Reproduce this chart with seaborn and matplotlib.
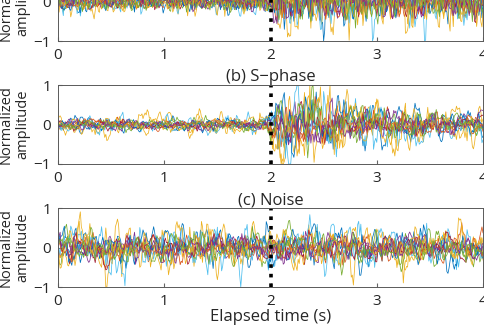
import numpy as np
import pandas as pd
import matplotlib
matplotlib.use('Agg')
import matplotlib.pyplot as plt
import seaborn as sns

# Envelope of the waveforms (amplitude at each knot time)
t_knots = [0.0, 0.5, 1.0, 1.5, 1.95, 2.05, 2.4, 2.8, 3.2, 3.6, 4.0]
env_p = [0.13, 0.11, 0.11, 0.12, 0.12, 0.26, 0.28, 0.26, 0.25, 0.24, 0.23]
env_s = [0.09, 0.09, 0.08, 0.08, 0.09, 0.36, 0.38, 0.28, 0.22, 0.18, 0.15]
env_n = [0.21, 0.21, 0.21, 0.21, 0.21, 0.21, 0.21, 0.21, 0.21, 0.21, 0.21]

# relative gain of each trace (a couple of traces are louder than the rest)
trace_gain = [1.0, 0.8, 1.5, 0.7, 0.9, 1.4, 0.8, 1.0, 0.7, 1.2, 0.8, 0.9]
# smoothing length (samples) per panel: P is spiky, S and noise are smoother
smooth_len = {'(a) P-phase': 2, '(b) S\u2212phase': 4, '(c) Noise': 4}

panels = ['(a) P-phase', '(b) S\u2212phase', '(c) Noise']
envelopes = [env_p, env_s, env_n]
ytick_vals = [-1, 0, 1]
xtick_vals = [0, 1, 2, 3, 4]
onset_time = 2.0

matlab_colors = ['#0072BD', '#D95319', '#EDB120', '#7E2F8E', '#77AC30', '#4DBEEE', '#A2142F']

fs = 100
t = np.arange(0, 4.0 + 1e-9, 1 / fs)
rng = np.random.default_rng(7)

frames = []
for name, env in zip(panels, envelopes):
    e = np.interp(t, t_knots, env)
    k = smooth_len[name]
    for i, g in enumerate(trace_gain):
        w = rng.standard_normal(len(t) + k)
        w = np.convolve(w, np.ones(k) / np.sqrt(k), mode='same')[:len(t)]
        y = np.clip(g * e * w, -1.0, 1.0)
        frames.append(pd.DataFrame({'panel': name, 'trace': i, 'time': t, 'amp': y}))
df = pd.concat(frames, ignore_index=True)

sns.set_style('ticks')
plt.rcParams['font.family'] = ['Open Sans', 'DejaVu Sans']
plt.rcParams['font.size'] = 10.5

fig = plt.figure(figsize=(4.85, 3.27), dpi=100)
left, width, height = 0.1196, 0.8763, 0.2405
bottoms = [0.8746, 0.4985, 0.1223]

palette = [matlab_colors[i % len(matlab_colors)] for i in range(len(trace_gain))]

for name, b in zip(panels, bottoms):
    ax = fig.add_axes([left, b, width, height])
    sns.lineplot(data=df[df['panel'] == name], x='time', y='amp', hue='trace',
                 palette=palette, estimator=None, linewidth=0.55, legend=False, ax=ax)
    ax.plot([onset_time, onset_time], [-1, 1], color='black', linestyle=':', linewidth=2.6)
    ax.set_xlim(0, 4)
    ax.set_ylim(-1, 1)
    ax.set_xticks(xtick_vals)
    ax.set_yticks(ytick_vals)
    ax.set_yticklabels(['\u22121', '0', '1'])
    ax.tick_params(direction='in', length=3, color='0.4', labelsize=11, pad=5)
    for s in ax.spines.values():
        s.set_visible(True)
        s.set_color('0.35')
        s.set_linewidth(0.7)
    ax.set_title(name, fontsize=12, pad=3)
    ax.set_ylabel('Normalized\namplitude', fontsize=10.5, labelpad=2)
    ax.set_xlabel('')
    if name == panels[-1]:
        ax.set_xlabel('Elapsed time (s)', fontsize=12, labelpad=0)

fig.savefig('out.png', dpi=100)
